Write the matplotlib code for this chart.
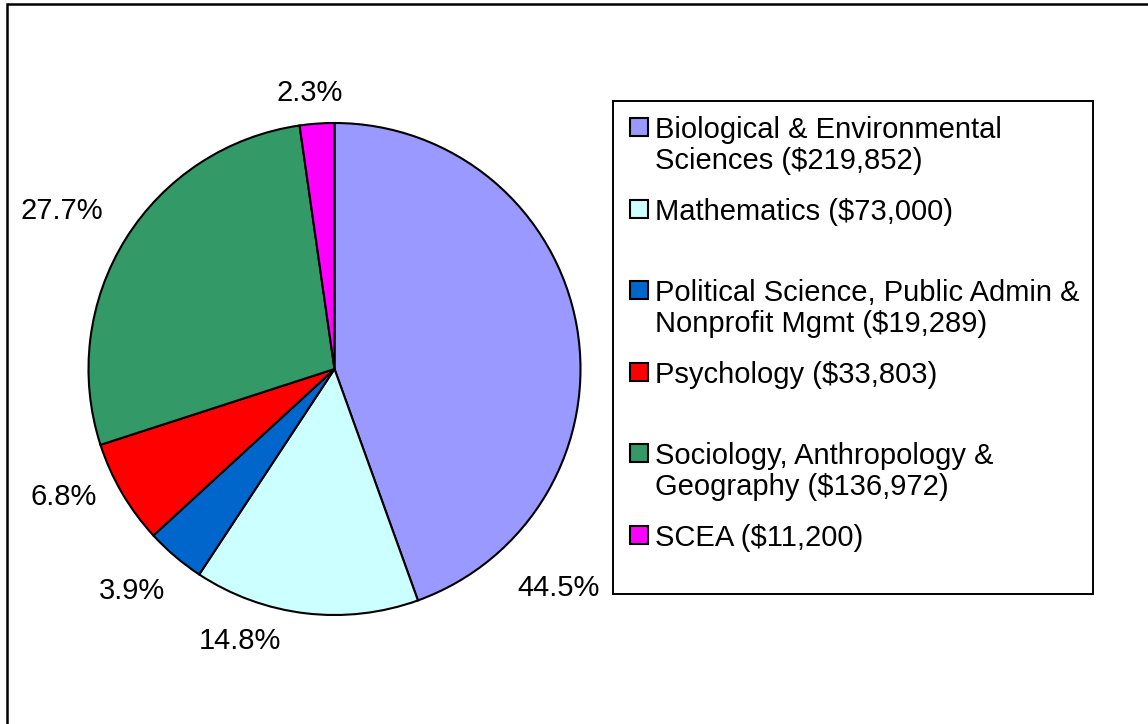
import matplotlib
matplotlib.use("Agg")
import matplotlib.pyplot as plt
from matplotlib.patches import Rectangle

plt.rcParams['font.family'] = ['Liberation Sans', 'DejaVu Sans']

# ---- data ----
categories = ["Biological & Environmental\nSciences ($219,852)",
              "Mathematics ($73,000)",
              "Political Science, Public Admin &\nNonprofit Mgmt ($19,289)",
              "Psychology ($33,803)",
              "Sociology, Anthropology &\nGeography ($136,972)",
              "SCEA ($11,200)"]
values = [219852, 73000, 19289, 33803, 136972, 11200]
colors = ["#9999FF", "#CCFFFF", "#0066CC", "#FF0000", "#339966", "#FF00FF"]

# ---- layout (pixels) ----
W, H = 1148, 724
cx, cy, r = 334.5, 369, 246
label_offsets = [(0.909, -0.890), (-0.384, -1.106), (-0.823, -0.902),
                 (-1.100, -0.520), (-1.108, 0.642), (-0.100, 1.122)]
fs = 21

fig = plt.figure(figsize=(W / 100, H / 100), dpi=100)
fig.patch.set_facecolor("white")

def fx(px):
    return px / W

def fy(py):
    return 1 - py / H

ax = fig.add_axes([fx(cx - r), fy(cy + r), 2 * r / W, 2 * r / H])
wedges, _ = ax.pie(values, colors=colors, startangle=90, counterclock=False,
                   radius=1, wedgeprops=dict(edgecolor="black", linewidth=1.5))
ax.set_xlim(-1, 1)
ax.set_ylim(-1, 1)
ax.set_aspect("equal")
ax.axis("off")

total = sum(values)
for v, (dx, dy) in zip(values, label_offsets):
    ax.text(dx, dy, f"{v / total * 100:.1f}%", ha="center", va="center",
            fontsize=fs, clip_on=False)

# outer chart frame
fig.patches.append(Rectangle((fx(7), fy(760)), (1200 - 7) / W, (760 - 4) / H,
                             transform=fig.transFigure, fill=False,
                             edgecolor="black", linewidth=1.8))

# legend box
lx0, lx1, ly0, ly1 = 613, 1093, 101, 594
fig.patches.append(Rectangle((fx(lx0), fy(ly1)), (lx1 - lx0) / W, (ly1 - ly0) / H,
                             transform=fig.transFigure, fill=False,
                             edgecolor="black", linewidth=1.4))

entry_y = [127, 209, 290, 372, 453, 535]
line_h = 31
msize = 18
mx = 630
tx = 655
for lab, col, ey in zip(categories, colors, entry_y):
    fig.patches.append(Rectangle((fx(mx), fy(ey + msize / 2)), msize / W, msize / H,
                                 transform=fig.transFigure, facecolor=col,
                                 edgecolor="black", linewidth=1.5))
    for i, line in enumerate(lab.split("\n")):
        fig.text(fx(tx), fy(ey + i * line_h), line, ha="left", va="center_baseline",
                 fontsize=fs)

fig.savefig("out.png", dpi=100, facecolor="white")
